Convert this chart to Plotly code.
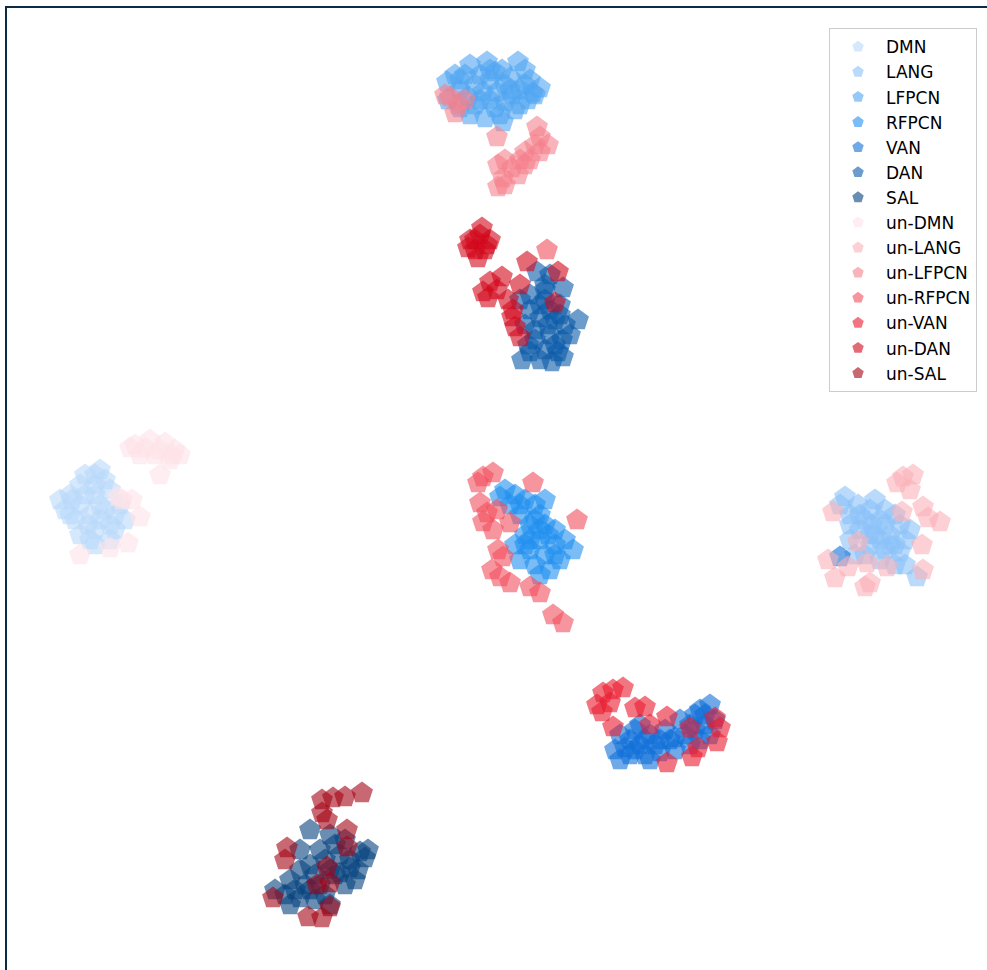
import plotly.graph_objects as go

# t-SNE style 2-D embedding coordinates
dmn_x = [-43.0,-42.0,-40.5,-40.0,-43.5,-42.0,-40.5,-39.0,-42.5,-41.0,-39.5,-38.0,-42.0,-40.5,-39.0,-37.5,-40.5,-39.0,-44.0,-41.5,-42.8,-40.0,-41.2,-38.5,-39.5,-41.5,-40.0,-43.0,-41.0,-38.5,-40.5]
dmn_y = [0.5,1.5,2.5,3.0,-1.0,-0.5,0.5,1.0,-2.0,-1.5,-1.0,-0.5,-3.5,-3.0,-2.5,-2.0,-4.5,-4.0,0.0,2.5,0.0,-0.5,-2.5,-1.5,2.0,0.5,-2.0,-1.5,-4.0,-3.0,1.5]

lang_x = [34.5,35.8,37.0,38.5,38.0,39.5,35.0,36.5,40.0,36.0,37.5,39.0,40.5,37.0,38.5,40.0,38.0,39.5,41.7,35.0,35.5,34.0,37.2,39.0,36.5,35.0,41.0,40.5,36.0,37.5,38.5,39.5,37.0,38.0]
lang_y = [0.3,-0.5,-1.0,-1.0,-2.0,-1.5,-1.5,-2.0,-2.5,-3.0,-3.5,-3.5,-4.0,-4.5,-5.0,-5.2,-6.0,-6.5,-7.7,-4.0,-5.5,-0.5,-2.5,-4.5,-5.5,-2.5,-3.0,-6.5,-1.5,0.0,-2.5,-4.5,-3.5,-4.0]

lfpcn_x = [-4.5,-3.0,-1.3,0.2,1.8,2.5,3.0,-5.3,-5.2,-4.0,-2.5,-1.0,0.5,2.0,3.5,-4.0,-2.5,-1.0,0.5,2.0,3.3,-3.0,-1.5,0.0,1.5,0.3,-0.5,-2.0,1.0,-3.5,1.2,2.8,-1.7,-0.3,-3.2,4.0,-4.0,-1.0,1.0,-2.0,-0.5,2.5]
lfpcn_y = [42.5,43.5,43.8,43.0,43.8,43.0,42.0,41.8,40.0,41.0,41.5,42.0,41.5,41.0,40.5,39.2,39.5,40.0,39.8,39.5,40.7,38.5,38.2,38.5,39.0,37.8,42.8,42.5,42.2,42.5,40.5,40.0,40.8,40.8,40.3,41.2,42.0,43.0,41.0,40.0,39.2,41.5]

rfpcn_x = [0.5,1.5,2.5,3.5,1.0,4.0,2.0,3.0,4.5,5.5,2.5,4.0,5.5,7.3,3.0,4.5,6.0,3.5,5.0,1.5,2.0,0.0,3.5,4.8,6.5,4.0,2.5,2.0,4.0,3.0,5.5,4.5]
rfpcn_y = [1.0,0.5,0.0,-0.5,-0.5,-1.5,-1.5,-2.5,-2.5,-3.0,-3.5,-4.0,-4.5,-5.0,-5.0,-5.5,-6.0,-6.5,-7.0,-4.5,-6.0,0.3,-2.0,-3.5,-4.0,-7.5,-4.5,-0.5,-3.0,-4.0,-5.5,0.0]

van_x = [12.0,13.5,15.0,12.5,14.0,15.5,17.0,11.5,13.0,14.5,16.0,17.5,19.0,20.0,19.0,20.0,21.0,19.5,18.0,16.5,20.5,21.5,14.0,13.0,16.0,18.5,21.0,12.0,15.0,14.5,17.5,19.5,13.5,20.5,34.0]
van_y = [-23.5,-23.0,-23.5,-24.8,-24.5,-24.5,-24.0,-25.0,-25.5,-25.5,-25.2,-25.0,-24.5,-24.0,-22.5,-21.0,-20.5,-21.5,-22.0,-23.0,-22.5,-22.0,-22.5,-24.0,-24.0,-23.5,-23.5,-26.0,-26.0,-24.0,-23.8,-23.0,-25.0,-21.5,-5.7]

dan_x = [3.7,4.5,3.0,4.5,6.0,7.8,3.0,4.0,5.5,6.5,3.5,5.0,6.2,2.8,4.5,5.8,2.2,4.0,5.2,6.3,2.5,2.0,5.0,6.3,5.0,3.5,7.0,4.8,4.0,5.5,3.0,6.0,4.5]
dan_y = [22.8,21.5,20.5,20.0,19.5,18.0,19.0,18.2,18.0,17.5,17.0,16.5,16.0,15.5,15.0,14.8,14.0,14.0,13.8,14.3,17.5,20.0,22.5,21.2,19.0,16.0,16.5,17.5,19.5,15.5,14.8,18.5,21.0]

sal_x = [-19.0,-17.0,-15.5,-20.0,-18.0,-16.0,-14.0,-19.0,-17.0,-15.0,-13.5,-21.0,-19.5,-18.0,-15.5,-21.5,-20.0,-18.5,-21.0,-16.0,-14.2,-17.5,-22.5,-13.2,-16.5,-18.5,-14.5,-20.0,-17.0,-17.5,-19.0,-16.5,-15.0,-20.5]
sal_y = [-33.0,-33.5,-34.0,-35.0,-35.0,-35.5,-35.2,-36.5,-37.0,-36.8,-35.8,-38.0,-38.5,-38.5,-38.5,-39.5,-39.8,-40.0,-40.5,-37.3,-37.0,-39.5,-39.0,-35.0,-34.5,-37.5,-38.0,-37.0,-40.5,-36.0,-39.0,-37.5,-36.0,-39.0]

un_dmn_x = [-36.5,-35.0,-33.5,-32.5,-32.0,-36.0,-34.5,-33.0,-34.0,-37.0,-37.8,-36.8,-36.0,-37.2,-39.0,-42.0,-38.2,-35.5,-34.0,-32.8]
un_dmn_y = [5.5,6.0,5.7,5.0,4.5,4.5,4.5,4.0,2.5,5.2,0.0,0.0,-1.7,-4.3,-4.8,-5.5,0.3,5.2,5.0,4.5]

un_lang_x = [40.3,41.3,39.7,41.0,42.3,44.0,42.8,40.2,33.3,35.8,42.2,32.8,33.5,34.8,36.7,38.7,37.0,42.3,36.5]
un_lang_y = [2.3,2.5,1.7,1.0,-0.7,-2.2,-1.8,-1.2,-1.2,-4.2,-4.5,-6.0,-7.8,-6.7,-6.3,-6.7,-8.3,-7.0,-8.7]

un_lfpcn_x = [-5.0,-4.2,-4.5,-3.5,-5.5,-0.3,3.7,4.0,4.8,3.5,2.5,2.0,3.0,4.0,-0.2,0.5,1.2,0.3,0.5,-0.2,1.8,2.5]
un_lfpcn_y = [40.3,39.5,38.7,40.0,40.5,36.3,37.3,36.3,35.5,35.5,34.8,34.0,34.0,34.8,33.5,34.0,33.2,32.2,31.5,31.3,32.5,33.5]

un_rfpcn_x = [-1.7,-0.7,-2.2,3.3,7.7,-2.0,-1.3,-0.3,-1.7,1.0,-0.7,-0.2,0.3,-0.8,0.0,1.0,3.0,4.0,5.3,6.3,4.7]
un_rfpcn_y = [2.3,2.7,1.7,1.7,-2.0,-0.3,-1.3,-1.0,-2.2,-2.3,-3.0,-5.0,-5.7,-7.0,-7.7,-8.3,-8.7,-9.3,-11.5,-12.3,25.0]

un_van_x = [10.3,11.3,12.3,9.7,11.0,10.2,11.3,13.5,14.5,15.0,16.7,19.0,21.5,22.0,21.7,19.2,16.7,19.8]
un_van_y = [-19.3,-19.0,-18.8,-20.5,-20.3,-21.2,-22.7,-20.8,-20.7,-22.5,-21.7,-22.8,-21.8,-22.8,-24.2,-25.7,-26.3,-24.8]

un_dan_x = [-3.0,-2.0,-1.3,-2.5,-1.8,-1.0,-3.2,-2.2,2.7,5.8,-1.0,0.2,-1.7,-1.2,2.0,0.8,1.2,1.5,2.0,5.5,1.3,-0.3,-2.5,-1.5]
un_dan_y = [26.0,26.5,25.5,25.0,27.2,26.0,25.2,24.2,23.8,22.8,21.8,22.3,20.8,20.2,21.5,20.0,18.3,17.3,16.3,19.7,19.0,21.0,26.0,25.0]

un_sal_x = [-17.8,-16.7,-15.5,-13.8,-17.8,-17.3,-21.3,-15.3,-15.3,-17.3,-18.3,-17.0,-22.7,-19.2,-17.0,-17.8,-21.5]
un_sal_y = [-30.0,-29.8,-29.7,-29.3,-31.3,-32.0,-34.8,-34.7,-33.0,-36.7,-38.5,-38.3,-39.8,-41.7,-40.7,-41.8,-36.0]

series_names = ["DMN", "LANG", "LFPCN", "RFPCN", "VAN", "DAN", "SAL",
                "un-DMN", "un-LANG", "un-LFPCN", "un-RFPCN", "un-VAN", "un-DAN", "un-SAL"]
series_x = [dmn_x, lang_x, lfpcn_x, rfpcn_x, van_x, dan_x, sal_x,
            un_dmn_x, un_lang_x, un_lfpcn_x, un_rfpcn_x, un_van_x, un_dan_x, un_sal_x]
series_y = [dmn_y, lang_y, lfpcn_y, rfpcn_y, van_y, dan_y, sal_y,
            un_dmn_y, un_lang_y, un_lfpcn_y, un_rfpcn_y, un_van_y, un_dan_y, un_sal_y]
series_colors = ["#b9d9fa", "#8ac1f8", "#50a5f2", "#2090f0", "#0f70d8", "#0a5aa8", "#07437f",
                 "#fde3e7", "#fab0b8", "#f5808c", "#f24e5d", "#ea1b2f", "#d2071b", "#a30314"]

fig = go.Figure()
for name, xs, ys, col in zip(series_names, series_x, series_y, series_colors):
    fig.add_trace(go.Scatter(
        x=xs, y=ys, mode="markers", name=name, legendgroup=name,
        marker=dict(symbol="pentagon", size=23, color=col, opacity=0.6, line=dict(width=0)),
    ))

fig.update_layout(
    width=987, height=970,
    margin=dict(l=7, r=0, t=8, b=0),
    paper_bgcolor="white", plot_bgcolor="white",
    font=dict(family="DejaVu Sans", size=17, color="black"),
    showlegend=True,
    legend=dict(
        x=0.8388, y=0.979, xanchor="left", yanchor="top",
        bordercolor="#cccccc", borderwidth=1, bgcolor="rgba(255,255,255,0.8)",
        itemsizing="constant", tracegroupgap=0, itemwidth=46,
        font=dict(family="DejaVu Sans", size=17),
    ),
    xaxis=dict(range=[-49.3, 48.7], showgrid=False, zeroline=False, showticklabels=False,
               ticks="", showline=True, side="top", linecolor="#0a2b45", linewidth=2, mirror=False),
    yaxis=dict(range=[-47.0, 49.2], showgrid=False, zeroline=False, showticklabels=False,
               ticks="", showline=True, side="left", linecolor="#0a2b45", linewidth=2, mirror=False),
)

fig.write_html("out.html", config={"displayModeBar": False},
               post_script="document.body.style.margin='0';document.body.style.overflow='hidden';")
